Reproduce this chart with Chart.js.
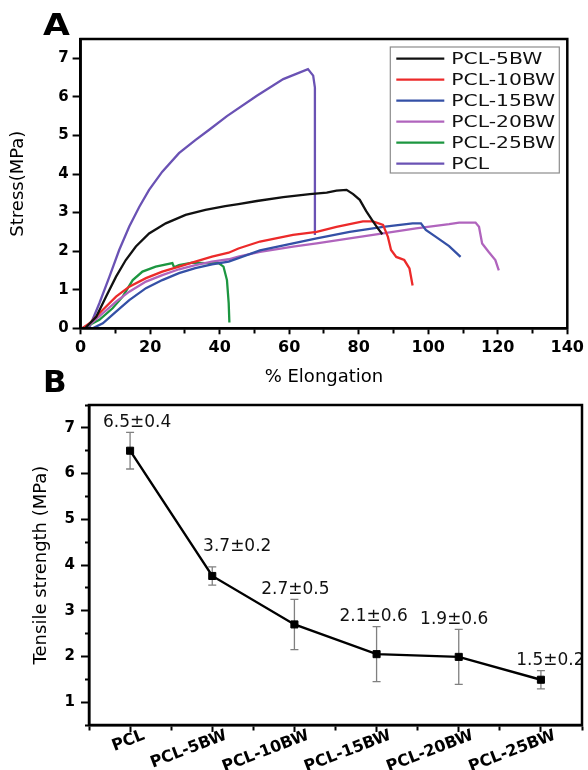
<!DOCTYPE html>
<html>
<head>
<meta charset="utf-8">
<script src="https://cdn.jsdelivr.net/npm/chart.js@4.4.1/dist/chart.umd.min.js"></script>
<style>
  body { margin: 0; background: #fff; }
  #page { position: relative; width: 588px; height: 770px; }
  .panel { position: absolute; left: 0; width: 588px; }
</style>
</head>
<body>
<div id="page">
  <div class="panel" style="top:0;height:400px"><canvas id="chartA"></canvas></div>
  <div class="panel" style="top:360px;height:410px"><canvas id="chartB"></canvas></div>
</div>
<script>
// ---------------------------
// PANEL A: stress / strain curves (% elongation, MPa)
// ---------------------------
const elong5BW  = [1.5, 4.5, 7.3, 10.2, 13.0, 15.9, 19.7, 24.5, 30.2, 35.9, 41.6, 45.4, 50.7, 58.3, 65.9, 70.8, 73.6, 76.5, 78.4, 80.3, 82.2, 84.1, 85.5, 86.8];
const stress5BW = [0.02, 0.30, 0.82, 1.34, 1.77, 2.12, 2.46, 2.72, 2.94, 3.07, 3.17, 3.22, 3.30, 3.40, 3.48, 3.52, 3.57, 3.59, 3.48, 3.33, 3.03, 2.77, 2.59, 2.44];

const elong10BW  = [0.5, 2.6, 6.4, 10.2, 14.0, 18.8, 23.5, 28.3, 33.0, 37.8, 42.6, 45.4, 51.6, 61.1, 67.9, 73.6, 77.4, 81.2, 84.1, 87.0, 88.4, 89.3, 90.8, 93.1, 94.6, 95.5];
const stress10BW = [0.0, 0.13, 0.48, 0.82, 1.08, 1.30, 1.47, 1.60, 1.73, 1.86, 1.96, 2.07, 2.25, 2.42, 2.50, 2.63, 2.70, 2.77, 2.77, 2.68, 2.37, 2.03, 1.85, 1.77, 1.55, 1.11];

const elong15BW  = [0.5, 3.5, 6.4, 10.2, 14.0, 18.8, 23.5, 28.3, 33.0, 37.8, 42.6, 45.4, 51.6, 61.1, 67.9, 77.4, 87.0, 95.5, 97.9, 99.3, 102.2, 106.0, 109.3];
const stress15BW = [0.0, 0.0, 0.13, 0.43, 0.73, 1.04, 1.25, 1.43, 1.56, 1.66, 1.73, 1.82, 2.02, 2.20, 2.33, 2.50, 2.63, 2.72, 2.72, 2.55, 2.37, 2.13, 1.85];

const elong20BW  = [0.5, 2.6, 6.4, 10.2, 14.0, 18.8, 23.5, 28.3, 33.0, 37.8, 42.6, 45.4, 51.6, 61.1, 67.9, 77.4, 87.0, 96.5, 106.0, 108.9, 113.6, 114.6, 115.5, 117.4, 119.3, 120.3];
const stress20BW = [0.0, 0.09, 0.39, 0.69, 0.95, 1.21, 1.38, 1.53, 1.64, 1.73, 1.79, 1.86, 1.98, 2.12, 2.20, 2.33, 2.46, 2.59, 2.70, 2.74, 2.74, 2.63, 2.20, 1.98, 1.77, 1.50];

const elong25BW  = [0.5, 1.6, 5.4, 9.2, 12.1, 15.0, 17.8, 21.6, 26.4, 26.9, 28.3, 32.1, 35.9, 39.7, 41.1, 42.1, 42.6, 42.8];
const stress25BW = [0.0, 0.04, 0.22, 0.52, 0.82, 1.25, 1.47, 1.60, 1.69, 1.58, 1.64, 1.70, 1.69, 1.69, 1.60, 1.25, 0.65, 0.15];

const elongPCL  = [0.5, 2.6, 5.4, 8.3, 11.1, 14.0, 16.9, 19.7, 23.5, 28.3, 33.0, 36.9, 42.1, 50.7, 58.3, 65.4, 66.9, 67.4, 67.4];
const stressPCL = [0.0, 0.04, 0.65, 1.34, 2.03, 2.64, 3.15, 3.59, 4.06, 4.54, 4.88, 5.14, 5.50, 6.03, 6.46, 6.72, 6.55, 6.24, 2.42];

// ---------------------------
// PANEL B: tensile strength
// ---------------------------
const categories  = ['PCL', 'PCL-5BW', 'PCL-10BW', 'PCL-15BW', 'PCL-20BW', 'PCL-25BW'];
const strength    = [6.5, 3.76, 2.70, 2.05, 1.99, 1.49];
const strengthErr = [0.4, 0.2, 0.55, 0.6, 0.6, 0.2];
const strengthTxt = ['6.5±0.4', '3.7±0.2', '2.7±0.5', '2.1±0.6', '1.9±0.6', '1.5±0.2'];

// label nudges in px (placement only)
const labelNudge = [[7, 0], [25, -10], [1, 0], [-3, 0], [-4.5, 0], [9.5, 0]];

Chart.defaults.font.family = '"DejaVu Sans", sans-serif';
Chart.defaults.color = '#000';

function pts(xs, ys) {
  return xs.map((x, i) => ({ x: x, y: ys[i] }));
}

// black box round the plot area
const framePlugin = {
  id: 'frame',
  afterDraw(chart) {
    const { ctx, chartArea: a } = chart;
    ctx.save();
    ctx.strokeStyle = '#000';
    ctx.lineWidth = 2.5;
    ctx.strokeRect(a.left, a.top, a.right - a.left, a.bottom - a.top);
    ctx.restore();
  }
};

// big bold panel letter
const letterPlugin = {
  id: 'letter',
  afterDraw(chart, args, opts) {
    const ctx = chart.ctx;
    ctx.save();
    ctx.font = 'bold 31px "DejaVu Sans"';
    ctx.fillStyle = '#000';
    ctx.textBaseline = 'alphabetic';
    ctx.translate(opts.x, opts.y);
    ctx.scale(opts.sx || 1, 1);
    ctx.fillText(opts.text, 0, 0);
    ctx.restore();
  }
};

// boxed legend inside the top right corner
const boxLegend = {
  id: 'boxLegend',
  afterDraw(chart) {
    const { ctx, chartArea } = chart;
    const w = 169, h = 126;
    const right = chartArea.right - 8, top = chartArea.top + 8;
    const left = right - w;
    ctx.save();
    ctx.fillStyle = '#fff';
    ctx.fillRect(left, top, w, h);
    ctx.strokeStyle = '#8c8c8c';
    ctx.lineWidth = 1.2;
    ctx.strokeRect(left, top, w, h);
    chart.data.datasets.forEach((ds, i) => {
      const y = top + 11.6 + i * 21;
      ctx.strokeStyle = ds.borderColor;
      ctx.lineWidth = 2.2;
      ctx.beginPath();
      ctx.moveTo(left + 6, y);
      ctx.lineTo(left + 54, y);
      ctx.stroke();
      ctx.save();
      ctx.translate(left + 61, y + 1);
      ctx.scale(1.27, 1);
      ctx.fillStyle = '#111';
      ctx.font = '16px "DejaVu Sans"';
      ctx.textBaseline = 'middle';
      ctx.fillText(ds.label, 0, 0);
      ctx.restore();
    });
    ctx.restore();
  }
};

// error bars + value labels for panel B
const errorBars = {
  id: 'errorBars',
  beforeDatasetsDraw(chart) {
    const { ctx, scales: { x, y } } = chart;
    ctx.save();
    ctx.strokeStyle = '#808080';
    ctx.lineWidth = 1.3;
    strength.forEach((v, i) => {
      const px = x.getPixelForValue(i);
      const top = y.getPixelForValue(v + strengthErr[i]);
      const bot = y.getPixelForValue(v - strengthErr[i]);
      ctx.beginPath();
      ctx.moveTo(px, top); ctx.lineTo(px, bot);
      ctx.moveTo(px - 4, top); ctx.lineTo(px + 4, top);
      ctx.moveTo(px - 4, bot); ctx.lineTo(px + 4, bot);
      ctx.stroke();
    });
    ctx.restore();
  },
  afterDatasetsDraw(chart) {
    const { ctx, scales: { x, y } } = chart;
    ctx.save();
    ctx.font = '17px "DejaVu Sans"';
    ctx.fillStyle = '#111';
    ctx.textAlign = 'center';
    ctx.textBaseline = 'middle';
    strengthTxt.forEach((t, i) => {
      const px = x.getPixelForValue(i) + labelNudge[i][0];
      const py = y.getPixelForValue(strength[i] + strengthErr[i]) - 10 + labelNudge[i][1];
      ctx.fillText(t, px, py);
    });
    ctx.restore();
  }
};

function curve(label, xs, ys, color) {
  return {
    label: label,
    data: pts(xs, ys),
    borderColor: color,
    borderWidth: 2.3,
    pointRadius: 0,
    tension: 0,
    fill: false
  };
}

new Chart(document.getElementById('chartA'), {
  type: 'line',
  data: {
    datasets: [
      curve('PCL-5BW', elong5BW, stress5BW, '#111111'),
      curve('PCL-10BW', elong10BW, stress10BW, '#ec2a2a'),
      curve('PCL-15BW', elong15BW, stress15BW, '#3450a6'),
      curve('PCL-20BW', elong20BW, stress20BW, '#b064bd'),
      curve('PCL-25BW', elong25BW, stress25BW, '#1c9640'),
      curve('PCL', elongPCL, stressPCL, '#6a52b4')
    ]
  },
  options: {
    responsive: true,
    maintainAspectRatio: false,
    animation: false,
    layout: { padding: { top: 39, right: 19.2, left: 0, bottom: 0 } },
    plugins: {
      legend: { display: false },
      tooltip: { enabled: false },
      letter: { text: 'A', x: 43, y: 35, sx: 1.12 }
    },
    scales: {
      x: {
        type: 'linear',
        min: 0,
        max: 140,
        ticks: {
          stepSize: 10,
          autoSkip: false,
          maxRotation: 0,
          padding: 4,
          font: { size: 16, weight: 'bold' },
          callback: v => (v % 20 === 0 ? v : '')
        },
        grid: {
          drawOnChartArea: false,
          tickLength: 6,
          tickColor: '#000',
          tickWidth: 2,
          tickBorderDash: c => (c.tick && c.tick.value % 20 !== 0 ? [4, 20] : [])
        },
        border: { color: '#000', width: 2.5 },
        title: { display: true, text: '% Elongation', font: { size: 18 }, padding: { top: 0, bottom: 12 } },
        afterFit: s => { s.height = 71.7; }
      },
      y: {
        min: 0,
        max: 7.5,
        ticks: {
          stepSize: 0.5,
          padding: 4,
          font: { size: 15, weight: 'bold' },
          callback: v => (Number.isInteger(v) ? v : '')
        },
        grid: {
          drawOnChartArea: false,
          tickLength: 8,
          tickColor: '#000',
          tickWidth: 2,
          tickBorderDash: c => (c.tick && !Number.isInteger(c.tick.value) ? [0, 4, 4, 20] : [])
        },
        border: { color: '#000', width: 2.5 },
        title: { display: true, text: 'Stress(MPa)', font: { size: 18 }, padding: { top: 8, bottom: 0 } },
        afterFit: s => { s.width = 80.6; }
      }
    }
  },
  plugins: [framePlugin, boxLegend, letterPlugin]
});

new Chart(document.getElementById('chartB'), {
  type: 'line',
  data: {
    datasets: [{
      label: 'Tensile strength',
      data: pts(categories.map((c, i) => i), strength),
      borderColor: '#000',
      borderWidth: 2.4,
      tension: 0,
      pointStyle: 'rect',
      pointRadius: 5,
      pointBorderWidth: 1,
      pointBackgroundColor: '#000',
      pointBorderColor: '#000'
    }]
  },
  options: {
    responsive: true,
    maintainAspectRatio: false,
    animation: false,
    layout: { padding: { top: 45, right: 5.5, left: 0, bottom: 0 } },
    plugins: {
      legend: { display: false },
      tooltip: { enabled: false },
      letter: { text: 'B', x: 43, y: 32, sx: 1 }
    },
    scales: {
      x: {
        type: 'linear',
        min: -0.5,
        max: 5.5,
        ticks: {
          stepSize: 0.5,
          autoSkip: false,
          minRotation: 21,
          maxRotation: 21,
          padding: -6,
          labelOffset: 14,
          font: { size: 16, weight: 'bold' },
          callback: v => (Number.isInteger(v) ? categories[v] : '')
        },
        grid: {
          drawOnChartArea: false,
          tickLength: 7,
          tickColor: '#000',
          tickWidth: 2,
          tickBorderDash: c => (c.tick && !Number.isInteger(c.tick.value) ? [4, 20] : [])
        },
        border: { color: '#000', width: 2.5 },
        afterFit: s => { s.height = 45; }
      },
      y: {
        min: 0.5,
        max: 7.5,
        ticks: {
          stepSize: 0.5,
          padding: 6,
          font: { size: 15, weight: 'bold' },
          callback: v => (Number.isInteger(v) ? v : '')
        },
        grid: {
          drawOnChartArea: false,
          tickLength: 8,
          tickColor: '#000',
          tickWidth: 2,
          tickBorderDash: c => (c.tick && !Number.isInteger(c.tick.value) ? [0, 4, 4, 20] : [])
        },
        border: { color: '#000', width: 2.5 },
        title: { display: true, text: 'Tensile strength (MPa)', font: { size: 18 }, padding: { top: 31, bottom: 0 } },
        afterFit: s => { s.width = 89; }
      }
    }
  },
  plugins: [framePlugin, errorBars, letterPlugin]
});
</script>
</body>
</html>
